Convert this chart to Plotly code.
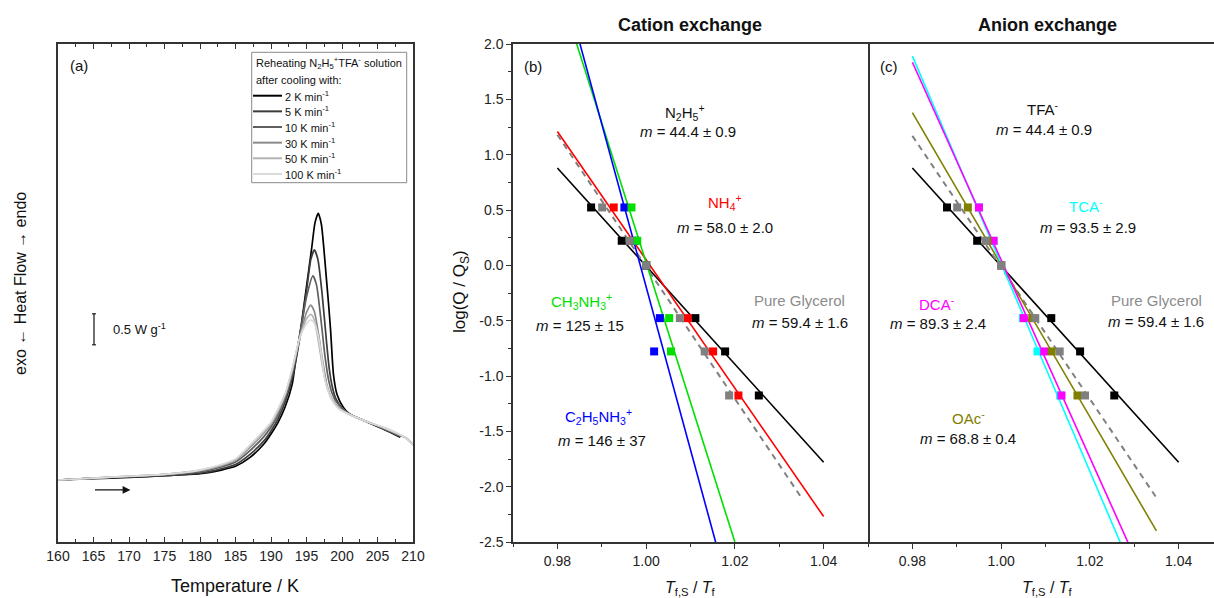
import plotly.graph_objects as go

W, H = 1214, 598
FONT = "Liberation Sans, Arial, sans-serif"
AX = "#333333"

# ---------------- Panel (a): DSC reheating curves ----------------
T_2K = [160, 165, 170, 175, 180, 183, 185, 187, 189, 190, 191, 192, 193, 193.5, 194.2, 194.8, 195.7, 196.2,
        196.66, 197.1, 197.46, 197.8, 198.1, 198.4, 198.8, 199.3, 200.2, 201, 202, 204, 206, 208.2]
Q_2K = [1.00, 1.02, 1.04, 1.07, 1.10, 1.16, 1.22, 1.36, 1.58, 1.74, 1.93, 2.18, 2.55, 2.95, 3.45, 3.95, 4.71, 5.15,
        5.30, 5.12, 4.71, 4.25, 3.85, 3.40, 2.70, 2.38, 2.17, 2.07, 2.01, 1.91, 1.81, 1.69]

T_5K = [160, 165, 170, 175, 180, 183, 185, 187, 189, 190, 191, 192, 193, 194, 195, 195.6, 196.1, 196.6, 197.2,
        197.8, 198.2, 198.6, 199.1, 200, 201, 202, 204, 206, 208.3]
Q_5K = [1.00, 1.03, 1.05, 1.07, 1.11, 1.18, 1.25, 1.41, 1.63, 1.79, 1.99, 2.26, 2.64, 3.25, 4.05, 4.55, 4.71, 4.56,
        4.00, 3.25, 2.80, 2.52, 2.32, 2.16, 2.07, 2.01, 1.92, 1.82, 1.70]

T_10K = [160, 165, 170, 175, 180, 183, 185, 187, 189, 190, 191, 192, 193, 194, 195, 195.9, 196.4, 197, 197.6,
         198.1, 198.6, 199.2, 200.2, 201, 202, 204, 206, 208.3]
Q_10K = [1.00, 1.03, 1.05, 1.08, 1.13, 1.21, 1.29, 1.47, 1.70, 1.85, 2.05, 2.33, 2.72, 3.30, 3.95, 4.29, 4.15, 3.62,
         3.00, 2.62, 2.40, 2.26, 2.14, 2.07, 2.01, 1.92, 1.82, 1.70]

T_30K = [160, 165, 170, 175, 180, 183, 185, 187, 189, 190, 191, 192, 193, 194, 195, 195.6, 196.1, 196.7, 197.3,
         197.9, 198.6, 199.6, 201, 202, 204, 206, 208, 209, 209.5, 210]
Q_30K = [1.00, 1.03, 1.06, 1.09, 1.15, 1.23, 1.32, 1.52, 1.76, 1.90, 2.10, 2.37, 2.76, 3.28, 3.70, 3.82, 3.72, 3.35,
         2.90, 2.52, 2.30, 2.16, 2.06, 2.01, 1.92, 1.83, 1.73, 1.68, 1.63, 1.57]

T_50K = [160, 165, 170, 175, 180, 183, 185, 187, 189, 190, 191, 192, 193, 194, 195, 195.6, 196.1, 196.7, 197.3,
         198, 198.8, 199.7, 201, 202, 204, 206, 208, 209, 209.5, 210]
Q_50K = [1.00, 1.03, 1.06, 1.09, 1.16, 1.24, 1.33, 1.54, 1.78, 1.92, 2.12, 2.38, 2.78, 3.26, 3.60, 3.67, 3.58, 3.22,
         2.80, 2.45, 2.26, 2.14, 2.06, 2.01, 1.92, 1.84, 1.74, 1.68, 1.62, 1.56]

T_100K = [160, 165, 170, 175, 180, 183, 185, 187, 189, 190, 191, 192, 193, 194, 195, 195.5, 196, 196.5, 197,
          197.6, 198.5, 199.5, 201, 202, 204, 206, 208, 209, 209.5, 210]
Q_100K = [1.00, 1.03, 1.06, 1.09, 1.16, 1.25, 1.34, 1.56, 1.80, 1.93, 2.15, 2.40, 2.80, 3.28, 3.52, 3.58, 3.55,
          3.40, 3.10, 2.61, 2.30, 2.15, 2.06, 2.01, 1.92, 1.84, 1.74, 1.68, 1.62, 1.56]

rate_labels = ["2 K min<sup>-1</sup>", "5 K min<sup>-1</sup>", "10 K min<sup>-1</sup>",
               "30 K min<sup>-1</sup>", "50 K min<sup>-1</sup>", "100 K min<sup>-1</sup>"]
rate_colors = ["#000000", "#3c3c3c", "#5f5f5f", "#8a8a8a", "#b4b4b4", "#dadada"]
dsc_T = [T_2K, T_5K, T_10K, T_30K, T_50K, T_100K]
dsc_Q = [Q_2K, Q_5K, Q_10K, Q_30K, Q_50K, Q_100K]

a_xticks = [160, 165, 170, 175, 180, 185, 190, 195, 200, 205, 210]
a_xminor = [162.5, 167.5, 172.5, 177.5, 182.5, 187.5, 192.5, 197.5, 202.5, 207.5]

# ---------------- Panels (b), (c): log(Q/Qs) vs Tf,S/Tf ----------------
logQ = [0.523, 0.222, 0.0, -0.477, -0.778, -1.176]

# cation exchange points
b_N2H5_x = [0.9876, 0.9945, 1.0, 1.0111, 1.0178, 1.0254]
b_Gly_x = [0.9901, 0.9963, 1.0, 1.0076, 1.0132, 1.0187]
b_NH4_x = [0.9927, 0.9968, 1.0, 1.0094, 1.0151, 1.0208]
b_C2_x = [0.9951, 0.9975, 1.0, 1.0031, 1.0018]
b_CH3_x = [0.9967, 0.9980, 1.0, 1.0052, 1.0056]

# cation fit lines (end points)
b_N2H5_fit_x, b_N2H5_fit_y = [0.98, 1.04], [0.88, -1.78]
b_Gly_fit_x, b_Gly_fit_y = [0.98, 1.035], [1.18, -2.10]
b_NH4_fit_x, b_NH4_fit_y = [0.98, 1.04], [1.21, -2.27]
b_CH3_fit_x, b_CH3_fit_y = [0.98, 1.02], [2.55, -2.50]
b_C2_fit_x, b_C2_fit_y = [0.98, 1.016], [2.75, -2.55]

# anion exchange points
c_TFA_x = [0.9878, 0.9946, 1.0, 1.0113, 1.0178, 1.0255]
c_Gly_x = [0.9901, 0.9965, 1.0, 1.0077, 1.0132, 1.0189]
c_OAc_x = [0.9925, 0.9969, 1.0, 1.0070, 1.0114, 1.0172]
c_DCA_x = [0.9950, 0.9983, 1.0, 1.0051, 1.0097, 1.0136]
c_TCA_x = [0.9950, 0.9983, 1.0, 1.0049, 1.0082, 1.0133]

# anion fit lines
c_TFA_fit_x, c_TFA_fit_y = [0.98, 1.04], [0.88, -1.78]
c_Gly_fit_x, c_Gly_fit_y = [0.98, 1.035], [1.17, -2.10]
c_OAc_fit_x, c_OAc_fit_y = [0.98, 1.035], [1.38, -2.40]
c_DCA_fit_x, c_DCA_fit_y = [0.98, 1.03], [1.835, -2.63]
c_TCA_fit_x, c_TCA_fit_y = [0.98, 1.03], [1.89, -2.80]

bc_xticks = [0.98, 1.00, 1.02, 1.04]
bc_xticktext = ["0.98", "1.00", "1.02", "1.04"]
bc_xminor = [0.97, 0.99, 1.01, 1.03, 1.05]
bc_yticks = [2.0, 1.5, 1.0, 0.5, 0.0, -0.5, -1.0, -1.5, -2.0, -2.5]
bc_yticktext = ["2.0", "1.5", "1.0", "0.5", "0.0", "-0.5", "-1.0", "-1.5", "-2.0", "-2.5"]
bc_yminor = [1.75, 1.25, 0.75, 0.25, -0.25, -0.75, -1.25, -1.75, -2.25]

C_BLACK, C_GRAY, C_RED, C_GREEN, C_BLUE = "#000000", "#808080", "#ff0000", "#00e000", "#0000ff"
C_CYAN, C_MAG, C_OLIVE = "#00ffff", "#ff00ff", "#808000"


def px(x):
    return x / W


def py(y):
    return 1 - y / H


fig = go.Figure()

# panel (a) curves
for Tv, Qv, lab, col in zip(dsc_T, dsc_Q, rate_labels, rate_colors):
    fig.add_trace(go.Scatter(x=Tv, y=Qv, mode="lines", name=lab,
                             line=dict(color=col, width=1.7, shape="spline", smoothing=0.6),
                             xaxis="x", yaxis="y", showlegend=False))


def fit(xv, yv, col, ax, dash=None, width=1.6):
    fig.add_trace(go.Scatter(x=xv, y=yv, mode="lines", line=dict(color=col, width=width, dash=dash),
                             xaxis=ax[0], yaxis=ax[1], showlegend=False, hoverinfo="skip"))


def pts(xv, col, ax):
    fig.add_trace(go.Scatter(x=xv, y=logQ[:len(xv)], mode="markers",
                             marker=dict(symbol="square", size=8, color=col, line=dict(width=0)),
                             xaxis=ax[0], yaxis=ax[1], showlegend=False))


B = ("x2", "y2")
Cx = ("x3", "y3")
fit(b_N2H5_fit_x, b_N2H5_fit_y, C_BLACK, B)
fit(b_Gly_fit_x, b_Gly_fit_y, C_GRAY, B, dash="6px,5px", width=2)
fit(b_NH4_fit_x, b_NH4_fit_y, C_RED, B)
fit(b_CH3_fit_x, b_CH3_fit_y, C_GREEN, B)
fit(b_C2_fit_x, b_C2_fit_y, C_BLUE, B)
pts(b_N2H5_x, C_BLACK, B)
pts(b_NH4_x, C_RED, B)
pts(b_C2_x, C_BLUE, B)
pts(b_CH3_x, C_GREEN, B)
pts(b_Gly_x, C_GRAY, B)

fit(c_TFA_fit_x, c_TFA_fit_y, C_BLACK, Cx)
fit(c_Gly_fit_x, c_Gly_fit_y, C_GRAY, Cx, dash="6px,5px", width=2)
fit(c_OAc_fit_x, c_OAc_fit_y, C_OLIVE, Cx)
fit(c_TCA_fit_x, c_TCA_fit_y, C_CYAN, Cx)
fit(c_DCA_fit_x, c_DCA_fit_y, C_MAG, Cx)
pts(c_TFA_x, C_BLACK, Cx)
pts(c_TCA_x, C_CYAN, Cx)
pts(c_DCA_x, C_MAG, Cx)
pts(c_OAc_x, C_OLIVE, Cx)
pts(c_Gly_x, C_GRAY, Cx)

ydom = [py(542), py(44)]
tickfont = dict(family=FONT, size=14, color="#222")

axis_common = dict(showgrid=False, zeroline=False, linecolor=AX, linewidth=1.5,
                   tickcolor=AX, tickfont=tickfont, automargin=False)

layout = dict(
    width=W, height=H, margin=dict(l=0, r=0, t=0, b=0, pad=0, autoexpand=False),
    paper_bgcolor="white", plot_bgcolor="white",
    font=dict(family=FONT, color="#111"),
    showlegend=False,
    xaxis=dict(domain=[px(58), px(413)], range=[160, 210], tickmode="array", tickvals=a_xticks,
               ticks="inside", ticklen=5, tickwidth=1.2, mirror="allticks", showline=True,
               minor=dict(tickmode="array", tickvals=a_xminor, ticks="inside", ticklen=3, tickcolor=AX),
               anchor="y", **axis_common),
    yaxis=dict(domain=ydom, range=[0, 8.03], showticklabels=False, ticks="", mirror=True, anchor="x",
               showline=True, **axis_common),
    xaxis2=dict(domain=[px(513), px(868)], range=[0.97, 1.05], tickmode="array", tickvals=bc_xticks,
                ticktext=bc_xticktext, ticks="outside", ticklen=5, tickwidth=1.2, mirror=True, showline=True,
                minor=dict(tickmode="array", tickvals=bc_xminor, ticks="outside", ticklen=3, tickcolor=AX),
                anchor="y2", **axis_common),
    yaxis2=dict(domain=ydom, range=[-2.5, 2.0], tickmode="array", tickvals=bc_yticks, ticktext=bc_yticktext,
                ticks="outside", ticklen=5, tickwidth=1.2, mirror=True, showline=True,
                minor=dict(tickmode="array", tickvals=bc_yminor, ticks="outside", ticklen=3, tickcolor=AX),
                anchor="x2", **axis_common),
    xaxis3=dict(domain=[px(868), 1.0], range=[0.97, 0.97 + 0.08 * 346 / 355], tickmode="array",
                tickvals=bc_xticks, ticktext=bc_xticktext, ticks="outside", ticklen=5, tickwidth=1.2,
                mirror=True, showline=True,
                minor=dict(tickmode="array", tickvals=bc_xminor, ticks="outside", ticklen=3, tickcolor=AX),
                anchor="y3", **axis_common),
    yaxis3=dict(domain=ydom, range=[-2.5, 2.0], showticklabels=False, ticks="", mirror=False, anchor="x3",
                showline=False, **axis_common),
)
fig.update_layout(**layout)

ann = []


def txt(x, y, text, size=15, color="#111", xanchor="center", angle=0, bold=False):
    if bold:
        text = "<b>" + text + "</b>"
    ann.append(dict(x=px(x), y=py(y), xref="paper", yref="paper", text=text, showarrow=False,
                    xanchor=xanchor, yanchor="middle", textangle=angle,
                    font=dict(family=FONT, size=size, color=color)))


# titles and axis titles
txt(690, 25, "Cation exchange", size=18, bold=True)
txt(1047, 25, "Anion exchange", size=18, bold=True)
txt(235.5, 586, "Temperature / K", size=18)
txt(20, 284, "exo ← Heat Flow → endo", size=16, angle=-90)
txt(461, 292, "log(Q / Q<sub>S</sub>)", size=17, angle=-90)
txt(690, 588, "<i>T</i><sub>f,S</sub> / <i>T</i><sub>f</sub>", size=16)
txt(1047, 588, "<i>T</i><sub>f,S</sub> / <i>T</i><sub>f</sub>", size=16)

# panel labels
txt(79, 65, "(a)", size=15)
txt(533, 66, "(b)", size=15)
txt(889, 66, "(c)", size=15)

# panel (b) labels
txt(685, 113, "N<sub>2</sub>H<sub>5</sub><sup>+</sup>")
txt(688, 132, "<i>m</i> = 44.4 ± 0.9")
txt(725, 202, "NH<sub>4</sub><sup>+</sup>", color=C_RED)
txt(725, 228, "<i>m</i> = 58.0 ± 2.0")
txt(581, 301, "CH<sub>3</sub>NH<sub>3</sub><sup>+</sup>", color=C_GREEN)
txt(580, 325, "<i>m</i> = 125 ± 15")
txt(598, 416, "C<sub>2</sub>H<sub>5</sub>NH<sub>3</sub><sup>+</sup>", color=C_BLUE)
txt(602, 440, "<i>m</i> = 146 ± 37")
txt(800, 300, "Pure Glycerol", color="#8c8c8c")
txt(800, 322, "<i>m</i> = 59.4 ± 1.6")

# panel (c) labels
txt(1043, 108, "TFA<sup>-</sup>")
txt(1044, 130, "<i>m</i> = 44.4 ± 0.9")
txt(1086, 205, "TCA<sup>-</sup>", color=C_CYAN)
txt(1088, 227, "<i>m</i> = 93.5 ± 2.9")
txt(937, 303, "DCA<sup>-</sup>", color=C_MAG)
txt(938, 323, "<i>m</i> = 89.3 ± 2.4")
txt(1156, 300, "Pure Glycerol", color="#8c8c8c")
txt(1156, 321, "<i>m</i> = 59.4 ± 1.6")
txt(968, 417, "OAc<sup>-</sup>", color=C_OLIVE)
txt(968, 438, "<i>m</i> = 68.8 ± 0.4")

# manual legend for panel (a)
shapes = []
shapes.append(dict(type="rect", xref="paper", yref="paper", x0=px(251.7), x1=px(406.7), y0=py(182.7),
                   y1=py(52.3), line=dict(color="#8a8a8a", width=1), fillcolor="rgba(0,0,0,0)"))
txt(253.5, 63, "Reheating N<sub>2</sub>H<sub>5</sub><sup>+</sup>TFA<sup>-</sup> solution", size=11,
    xanchor="left")
txt(253.5, 80, "after cooling with:", size=11, xanchor="left")
for i, (lab, col) in enumerate(zip(rate_labels, rate_colors)):
    yc = 95.7 + i * 15.65
    shapes.append(dict(type="line", xref="paper", yref="paper", x0=px(253), x1=px(282), y0=py(yc), y1=py(yc),
                       line=dict(color=col, width=2)))
    txt(282.5, yc, lab, size=11, xanchor="left")

# scale bar 0.5 W/g
shapes.append(dict(type="line", xref="x", yref="y", x0=165.07, x1=165.07, y0=3.18, y1=3.68,
                   line=dict(color="#222", width=1.3)))
for yv in (3.18, 3.68):
    shapes.append(dict(type="line", xref="x", yref="y", x0=164.8, x1=165.34, y0=yv, y1=yv,
                       line=dict(color="#222", width=1.3)))
ann.append(dict(x=167.4, y=3.43, xref="x", yref="y", text="0.5 W g<sup>-1</sup>", showarrow=False,
                xanchor="left", yanchor="middle", font=dict(family=FONT, size=13, color="#111")))
# heating direction arrow
ann.append(dict(x=170.2, y=0.84, ax=165.0, ay=0.84, xref="x", yref="y", axref="x", ayref="y", text="",
                showarrow=True, arrowhead=2, arrowsize=1.2, arrowwidth=1.3, arrowcolor="#111"))

fig.update_layout(annotations=ann, shapes=shapes)
fig.write_html("out.html", config={"displayModeBar": False},
               post_script="document.body.style.margin='0';document.body.style.overflow='hidden';")
